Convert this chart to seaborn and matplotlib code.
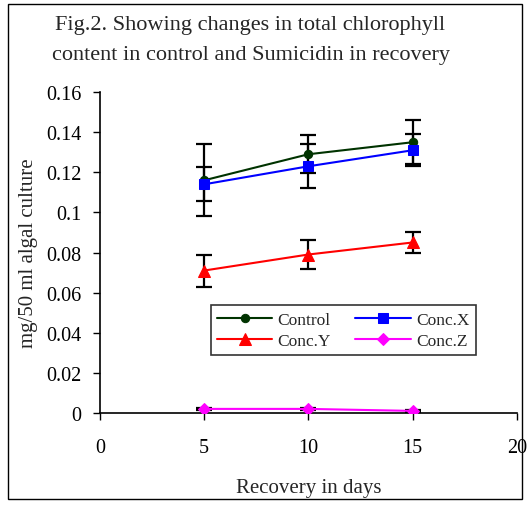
import matplotlib
matplotlib.use("Agg")
import matplotlib.pyplot as plt
import seaborn as sns
import pandas as pd
from matplotlib.patches import Rectangle

days = [5, 10, 15]
control = [0.116, 0.129, 0.135]
control_err = [0.018, 0.0095, 0.011]
conc_x = [0.114, 0.123, 0.131]
conc_x_err = [0.0085, 0.011, 0.008]
conc_y = [0.071, 0.079, 0.085]
conc_y_err = [0.008, 0.007, 0.005]
conc_z = [0.002, 0.002, 0.001]
conc_z_err = [0.0005, 0.0005, 0.0005]

series_names = ["Control", "Conc.X", "Conc.Y", "Conc.Z"]
colors = ["#003300", "#0000FF", "#FF0000", "#FF00FF"]
markers = ["o", "s", "^", "D"]
msizes = [6, 7, 8, 6]

sns.set_style("white")
plt.rcParams["font.family"] = ["Liberation Serif", "DejaVu Serif"]

rows = []
for name, vals, errs in zip(series_names, [control, conc_x, conc_y, conc_z],
                            [control_err, conc_x_err, conc_y_err, conc_z_err]):
    for d, v, e in zip(days, vals, errs):
        rows.append({"Day": d, "Value": v, "Err": e, "Series": name})
df = pd.DataFrame(rows)

fig = plt.figure(figsize=(5.28, 5.06), dpi=100)
fig.patches.append(Rectangle((0.015, 0.012), 0.973, 0.978, transform=fig.transFigure,
                             fill=False, edgecolor="black", linewidth=1.0))
ax = fig.add_axes([0.189, 0.182, 0.79, 0.634])

for name, c in zip(series_names, colors):
    sub = df[df["Series"] == name]
    ax.errorbar(sub["Day"], sub["Value"], yerr=sub["Err"], fmt="none",
                ecolor="black", elinewidth=1.6, capsize=6, capthick=1.6, zorder=2)

handles = {}
for name, c, m, ms in zip(series_names, colors, markers, msizes):
    sub = df[df["Series"] == name]
    sns.lineplot(data=sub, x="Day", y="Value", ax=ax, color=c, marker=m,
                 markersize=ms, markeredgecolor=c, linewidth=1.5, label=name,
                 zorder=3)
    handles[name] = ax.get_lines()[-1]

ax.set_xlim(0, 20)
ax.set_ylim(0, 0.16)
ax.set_xticks([0, 5, 10, 15, 20])
ax.set_yticks([0, 0.02, 0.04, 0.06, 0.08, 0.1, 0.12, 0.14, 0.16])
ax.set_yticklabels(["0", "0.02", "0.04", "0.06", "0.08", "0.1", "0.12", "0.14", "0.16"])
for s in ["top", "right"]:
    ax.spines[s].set_visible(False)
for s in ["left", "bottom"]:
    ax.spines[s].set_color("black")
    ax.spines[s].set_linewidth(1.2)
ax.tick_params(axis="both", which="both", direction="out", length=5, width=1,
               colors="black", labelsize=14.5, left=True, bottom=True)
ax.tick_params(axis="x", pad=13)
ax.tick_params(axis="y", pad=8)
ax.set_xlabel("Recovery in days", fontsize=15, labelpad=15)
ax.set_ylabel("mg/50 ml algal culture", fontsize=15, labelpad=6)

order = ["Control", "Conc.Y", "Conc.X", "Conc.Z"]
leg = ax.legend([handles[n] for n in order], order, loc="upper left",
                bbox_to_anchor=(0.245, 0.362), ncol=2,
                frameon=True, fancybox=False, fontsize=12.5, handlelength=3.2,
                columnspacing=1.4, borderpad=0.35, labelspacing=0.3,
                handletextpad=0.3)
leg.get_frame().set_edgecolor("black")
leg.get_frame().set_linewidth(1.2)

fig.text(0.104, 0.950, "Fig.2. Showing changes in total chlorophyll", ha="left",
         va="center", fontsize=16)
fig.text(0.098, 0.890, "content in control and Sumicidin in recovery", ha="left",
         va="center", fontsize=16)

fig.savefig("out.png", dpi=100)
